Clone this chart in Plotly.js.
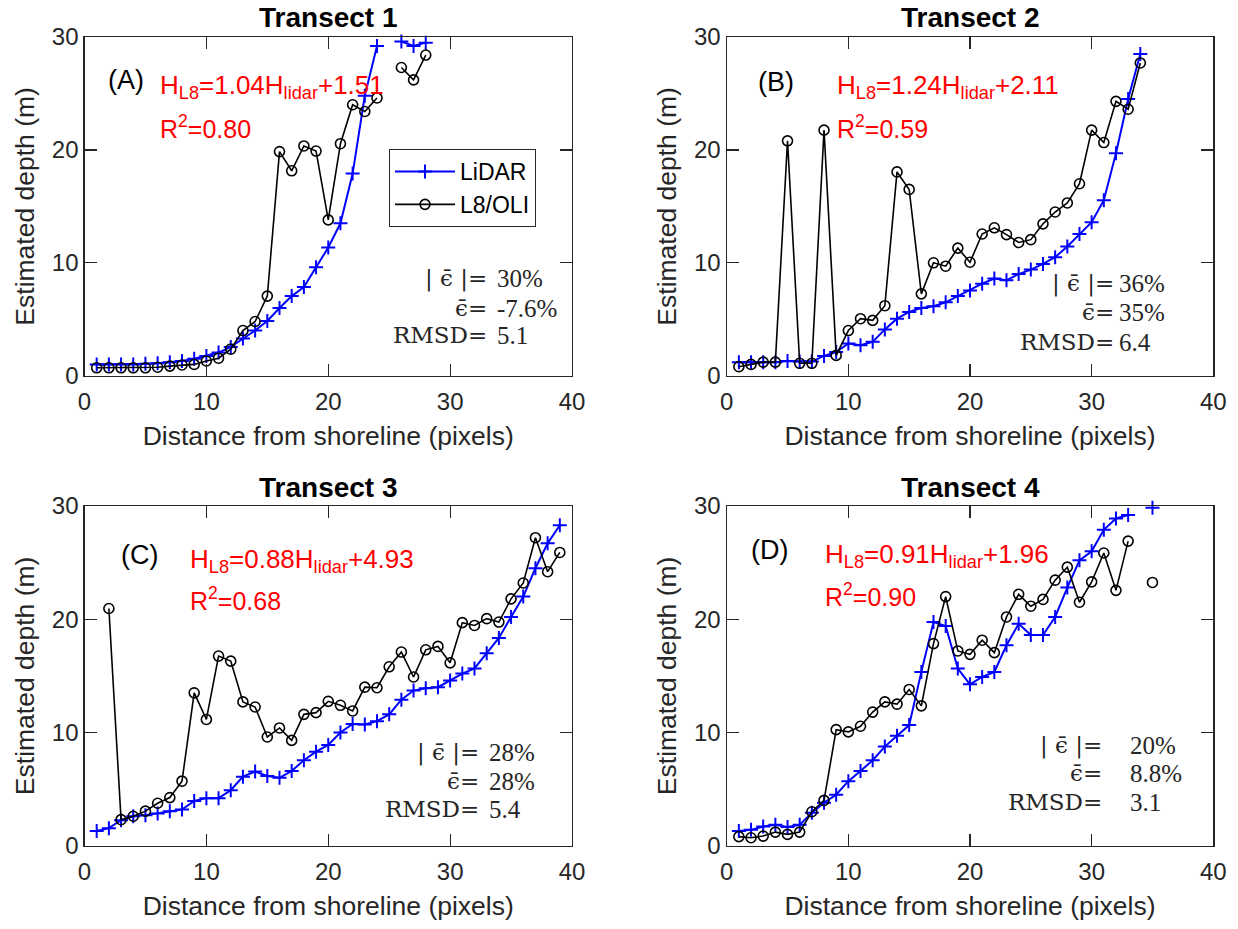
<!DOCTYPE html>
<html>
<head>
<meta charset="utf-8">
<script src="https://cdn.plot.ly/plotly-3.0.1.min.js"></script>
<style>html,body{margin:0;padding:0;background:#fff;}#chart{width:1238px;height:929px;}</style>
</head>
<body>
<div id="chart"></div>
<script>
// ---------------- data ----------------
const t1_x = [1,2,3,4,5,6,7,8,9,10,11,12,13,14,15,16,17,18,19,20,21,22,23,24,25,26,27,28];
const t1_lidar = [1.0,1.0,1.0,1.0,1.05,1.1,1.2,1.3,1.5,1.75,2.05,2.55,3.3,4.0,4.85,6.0,7.05,7.85,9.6,11.35,13.5,17.9,24.8,29.2,null,29.6,29.2,29.5];
const t1_l8 = [0.7,0.7,0.7,0.7,0.7,0.75,0.85,0.95,1.0,1.3,1.55,2.35,4.0,4.8,7.05,19.85,18.15,20.35,19.9,13.8,20.55,24.0,23.4,24.6,null,27.3,26.2,28.4];

const t2_x = [1,2,3,4,5,6,7,8,9,10,11,12,13,14,15,16,17,18,19,20,21,22,23,24,25,26,27,28,29,30,31,32,33,34];
const t2_lidar = [1.2,1.2,1.2,1.2,1.3,1.25,1.25,1.75,2.1,2.85,2.7,3.0,4.1,5.05,5.65,6.0,6.15,6.5,7.05,7.55,8.15,8.6,8.45,9.0,9.4,9.9,10.5,11.45,12.55,13.6,15.55,19.7,24.5,28.5];
const t2_l8 = [0.8,1.0,1.2,1.2,20.8,1.1,1.1,21.75,1.8,4.0,5.05,4.9,6.2,18.05,16.5,7.25,10.0,9.7,11.3,10.05,12.55,13.1,12.5,11.8,12.05,13.45,14.5,15.3,17.0,21.75,20.65,24.3,23.6,27.7];

const t3_x = [1,2,3,4,5,6,7,8,9,10,11,12,13,14,15,16,17,18,19,20,21,22,23,24,25,26,27,28,29,30,31,32,33,34,35,36,37,38,39];
const t3_lidar = [1.3,1.55,2.25,2.6,2.7,2.85,3.05,3.2,3.95,4.2,4.2,4.9,6.1,6.55,6.15,6.0,6.6,7.55,8.3,8.9,10.0,10.75,10.7,11.0,11.6,12.9,13.7,13.9,14.0,14.6,15.2,15.65,17.0,18.35,20.2,22.0,24.5,26.7,28.3];
const t3_l8 = [null,20.95,2.3,2.6,3.05,3.75,4.25,5.7,13.5,11.15,16.75,16.3,12.7,12.25,9.6,10.4,9.3,11.6,11.75,12.75,12.4,11.9,14.0,13.95,15.8,17.1,14.9,17.3,17.6,16.15,19.7,19.45,20.05,19.75,21.8,23.2,27.2,24.2,25.9];

const t4_x = [1,2,3,4,5,6,7,8,9,10,11,12,13,14,15,16,17,18,19,20,21,22,23,24,25,26,27,28,29,30,31,32,33,34,35];
const t4_lidar = [1.3,1.4,1.7,1.85,1.65,1.85,2.9,3.8,4.5,5.7,6.6,7.55,8.75,9.7,10.65,15.35,19.75,19.4,15.65,14.25,14.9,15.35,17.7,19.6,18.6,18.6,20.2,22.8,25.2,26.0,27.9,28.9,29.2,null,29.85];
const t4_l8 = [0.8,0.7,0.85,1.2,1.0,1.2,3.0,4.0,10.25,10.05,10.55,11.8,12.7,12.5,13.8,12.35,17.85,22.0,17.2,16.9,18.15,17.05,20.2,22.2,21.15,21.75,23.45,24.6,21.5,23.3,25.85,22.55,26.9,null,23.25];

const panelTitles = ["Transect 1","Transect 2","Transect 3","Transect 4"];
const panelLetters = ["(A)","(B)","(C)","(D)"];
const equations = ["H<sub>L8</sub>=1.04H<sub>lidar</sub>+1.51","H<sub>L8</sub>=1.24H<sub>lidar</sub>+2.11","H<sub>L8</sub>=0.88H<sub>lidar</sub>+4.93","H<sub>L8</sub>=0.91H<sub>lidar</sub>+1.96"];
const r2Texts = ["R<sup>2</sup>=0.80","R<sup>2</sup>=0.59","R<sup>2</sup>=0.68","R<sup>2</sup>=0.90"];
const statLabels = ["| \u03F5\u0304 |=","\u03F5\u0304=","RMSD="];
const absErr = ["30%","36%","28%","20%"];
const meanErr = ["-7.6%","35%","28%","8.8%"];
const rmsd = ["5.1","6.4","5.4","3.1"];
const xTicks = [0,10,20,30,40];
const yTicks = [0,10,20,30];
const xTitle = "Distance from shoreline (pixels)";
const yTitle = "Estimated depth (m)";

// ---------------- layout helpers ----------------
const W = 1238, H = 929;
const px = x => x / W;
const py = y => 1 - y / H;
const SANS = "Liberation Sans, Arial, Helvetica, sans-serif";
const SERIF = "Liberation Serif, Times New Roman, serif";
const SERIF_W = "DejaVu Serif, serif";
const AX = "#262626";

const xs = [t1_x, t2_x, t3_x, t4_x];
const lidars = [t1_lidar, t2_lidar, t3_lidar, t4_lidar];
const l8s = [t1_l8, t2_l8, t3_l8, t4_l8];

const boxes = [
  {l:84.5, r:572, t:37, b:375.7},
  {l:726.7, r:1213.3, t:37, b:375.7},
  {l:84.5, r:572, t:506, b:845.7},
  {l:726.7, r:1213.3, t:506, b:845.7}
];

const traces = [];
for (let i = 0; i < 4; i++) {
  const sfx = i === 0 ? "" : String(i + 1);
  traces.push({
    x: xs[i], y: lidars[i], type: "scatter", mode: "lines+markers", name: "LiDAR",
    xaxis: "x" + sfx, yaxis: "y" + sfx, showlegend: i === 0, legendgroup: "lidar",
    line: {color: "#0000ff", width: 2}, connectgaps: false, cliponaxis: false,
    marker: {symbol: "cross-thin-open", size: 10, color: "#0000ff", line: {color: "#0000ff", width: 2}}
  });
  traces.push({
    x: xs[i], y: l8s[i], type: "scatter", mode: "lines+markers", name: "L8/OLI",
    xaxis: "x" + sfx, yaxis: "y" + sfx, showlegend: i === 0, legendgroup: "l8",
    line: {color: "#000000", width: 1.6}, connectgaps: false, cliponaxis: false,
    marker: {symbol: "circle-open", size: 10, color: "#000000", line: {color: "#000000", width: 1.6}}
  });
}

const layout = {
  width: W, height: H,
  margin: {l: 0, r: 0, t: 0, b: 0},
  paper_bgcolor: "#ffffff", plot_bgcolor: "#ffffff",
  font: {family: SANS, color: AX},
  showlegend: true,
  legend: {
    x: px(389), y: py(149), xanchor: "left", yanchor: "top",
    bordercolor: AX, borderwidth: 1, bgcolor: "#ffffff",
    font: {family: SANS, size: 23, color: "#000000"},
    tracegroupgap: 0, itemwidth: 60
  },
  annotations: []
};

for (let i = 0; i < 4; i++) {
  const sfx = i === 0 ? "" : String(i + 1);
  const b = boxes[i];
  const axCommon = {
    showline: true, mirror: "ticks", ticks: "inside", ticklen: 12, tickwidth: 1.2,
    linecolor: AX, linewidth: 1.2, tickcolor: AX, showgrid: false, zeroline: false,
    tickfont: {family: SANS, size: 24, color: AX}
  };
  layout["xaxis" + sfx] = Object.assign({}, axCommon, {
    domain: [px(b.l), px(b.r)], anchor: "y" + sfx, range: [0, 40],
    tickmode: "array", tickvals: xTicks, ticktext: xTicks.map(String), ticklabelstandoff: 4,
    title: {text: xTitle, font: {family: SANS, size: 26.5, color: AX}, standoff: 12}
  });
  layout["yaxis" + sfx] = Object.assign({}, axCommon, {
    domain: [py(b.b), py(b.t)], anchor: "x" + sfx, range: [0, 30],
    tickmode: "array", tickvals: yTicks, ticktext: yTicks.map(String),
    title: {text: yTitle, font: {family: SANS, size: 26.5, color: AX}, standoff: 9}
  });
  layout.annotations.push({
    xref: "paper", yref: "paper", x: px((b.l + b.r) / 2), y: py(b.t - 19),
    xanchor: "center", yanchor: "middle", showarrow: false,
    text: "<b>" + panelTitles[i] + "</b>", font: {family: SANS, size: 28, color: "#000000"}
  });
}

const letterPos = [[106,80],[756,82],[119,555],[749,550]];
const eqPos = [[158,82],[835,82],[188,555],[823,550]];
const r2Pos = [[158,130],[835,130],[188,602],[823,598]];
for (let i = 0; i < 4; i++) {
  layout.annotations.push({xref:"paper", yref:"paper", x:px(letterPos[i][0]), y:py(letterPos[i][1]),
    xanchor:"left", yanchor:"middle", showarrow:false, text:panelLetters[i],
    font:{family:SANS, size:27, color:"#000000"}});
  layout.annotations.push({xref:"paper", yref:"paper", x:px(eqPos[i][0]), y:py(eqPos[i][1]+5),
    xanchor:"left", yanchor:"middle", showarrow:false, text:equations[i],
    font:{family:SANS, size:26, color:"#ff0000"}});
  layout.annotations.push({xref:"paper", yref:"paper", x:px(r2Pos[i][0]), y:py(r2Pos[i][1]-3),
    xanchor:"left", yanchor:"middle", showarrow:false, text:r2Texts[i],
    font:{family:SANS, size:25, color:"#ff0000"}});
}

const statEq = [488, 1115, 480, 1103];
const statVal = [496, 1118, 488, 1129];
const statY = [[278,308,335],[283,312,342],[752,781,809],[745,773,802]];
const statValues = [absErr, meanErr, rmsd];
for (let i = 0; i < 4; i++) {
  for (let k = 0; k < 3; k++) {
    layout.annotations.push({xref:"paper", yref:"paper", x:px(statEq[i]), y:py(statY[i][k]),
      xanchor:"right", yanchor:"middle", showarrow:false, text:statLabels[k], borderpad:0,
      font:{family:SERIF_W, size:23, color:AX}});
    layout.annotations.push({xref:"paper", yref:"paper", x:px(statVal[i]), y:py(statY[i][k]),
      xanchor:"left", yanchor:"middle", showarrow:false, text:statValues[k][i], borderpad:0,
      font:{family:SERIF, size:25, color:AX}});
  }
}

Plotly.newPlot("chart", traces, layout, {displayModeBar: false, staticPlot: true});
</script>
</body>
</html>
